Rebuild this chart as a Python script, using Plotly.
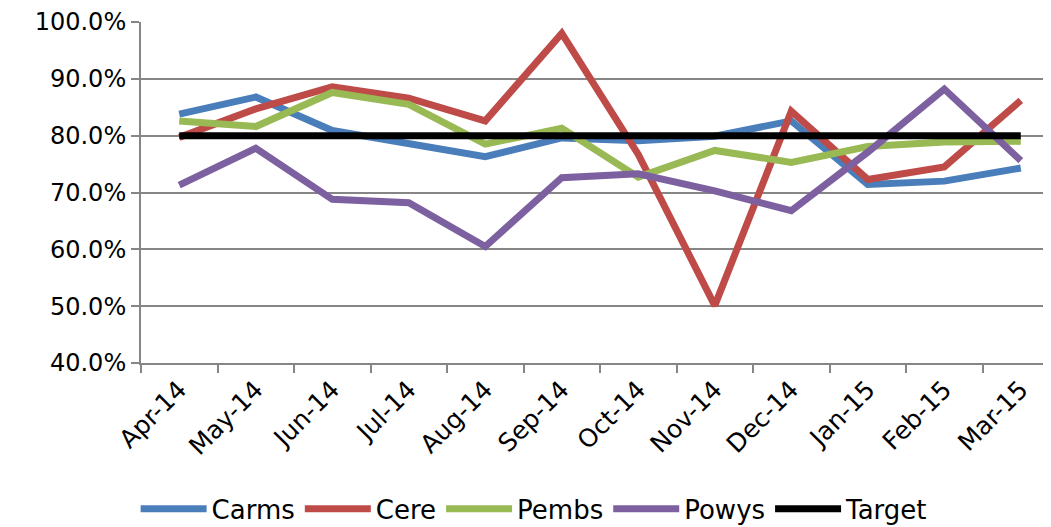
import plotly.graph_objects as go

months = ["Apr-14", "May-14", "Jun-14", "Jul-14", "Aug-14", "Sep-14",
          "Oct-14", "Nov-14", "Dec-14", "Jan-15", "Feb-15", "Mar-15"]
carms = [83.8, 86.8, 80.9, 78.5, 76.3, 79.6, 79.1, 79.9, 82.6, 71.4, 72.0, 74.3]
cere = [79.7, 84.7, 88.6, 86.6, 82.6, 98.0, 76.7, 50.1, 84.3, 72.3, 74.5, 86.2]
pembs = [82.6, 81.6, 87.6, 85.5, 78.5, 81.3, 72.7, 77.4, 75.3, 78.1, 78.9, 79.0]
powys = [71.3, 77.8, 68.8, 68.2, 60.5, 72.6, 73.3, 70.3, 66.8, 77.1, 88.2, 75.6]
target = [80.0] * 12
ytick_vals = [40, 50, 60, 70, 80, 90, 100]
ytick_text = ["40.0%", "50.0%", "60.0%", "70.0%", "80.0%", "90.0%", "100.0%"]

series = [
    ("Carms", carms, "#4A7EBB"),
    ("Cere", cere, "#BE4B48"),
    ("Pembs", pembs, "#98B954"),
    ("Powys", powys, "#7D60A0"),
    ("Target", target, "#000000"),
]

fig = go.Figure()
for name, vals, color in series:
    fig.add_trace(go.Scatter(
        x=months, y=vals, name=name, mode="lines",
        line=dict(color=color, width=7),
    ))

font = "DejaVu Sans"
fig.update_layout(
    width=1043, height=519,
    margin=dict(l=133, r=0, t=14, b=164),
    paper_bgcolor="white", plot_bgcolor="white",
    font=dict(family=font, size=25, color="black"),
    showlegend=True,
    legend=dict(orientation="h", xref="paper", x=0.432, xanchor="center",
                yref="container", y=0.035, yanchor="middle",
                font=dict(family=font, size=26, color="black"),
                itemwidth=66, tracegroupgap=0),
    xaxis=dict(
        type="category", range=[-0.5, 11.395], automargin=False,
        tickangle=-45, tickson="boundaries", ticklabeloverflow="allow",
        ticks="outside", ticklen=8, tickcolor="#868686", tickwidth=2,
        showline=True, linecolor="#868686", linewidth=2,
        showgrid=False, tickfont=dict(family=font, size=25, color="black"),
    ),
    yaxis=dict(
        range=[40, 100], tickvals=ytick_vals, ticktext=ytick_text, automargin=False,
        ticklabeloverflow="allow",
        ticks="outside", ticklen=8, tickcolor="#868686", tickwidth=2,
        showline=True, linecolor="#868686", linewidth=2,
        showgrid=True, gridcolor="#868686", gridwidth=2,
        zeroline=False, tickfont=dict(family=font, size=24, color="black"),
    ),
)

fig.write_html("out.html")
